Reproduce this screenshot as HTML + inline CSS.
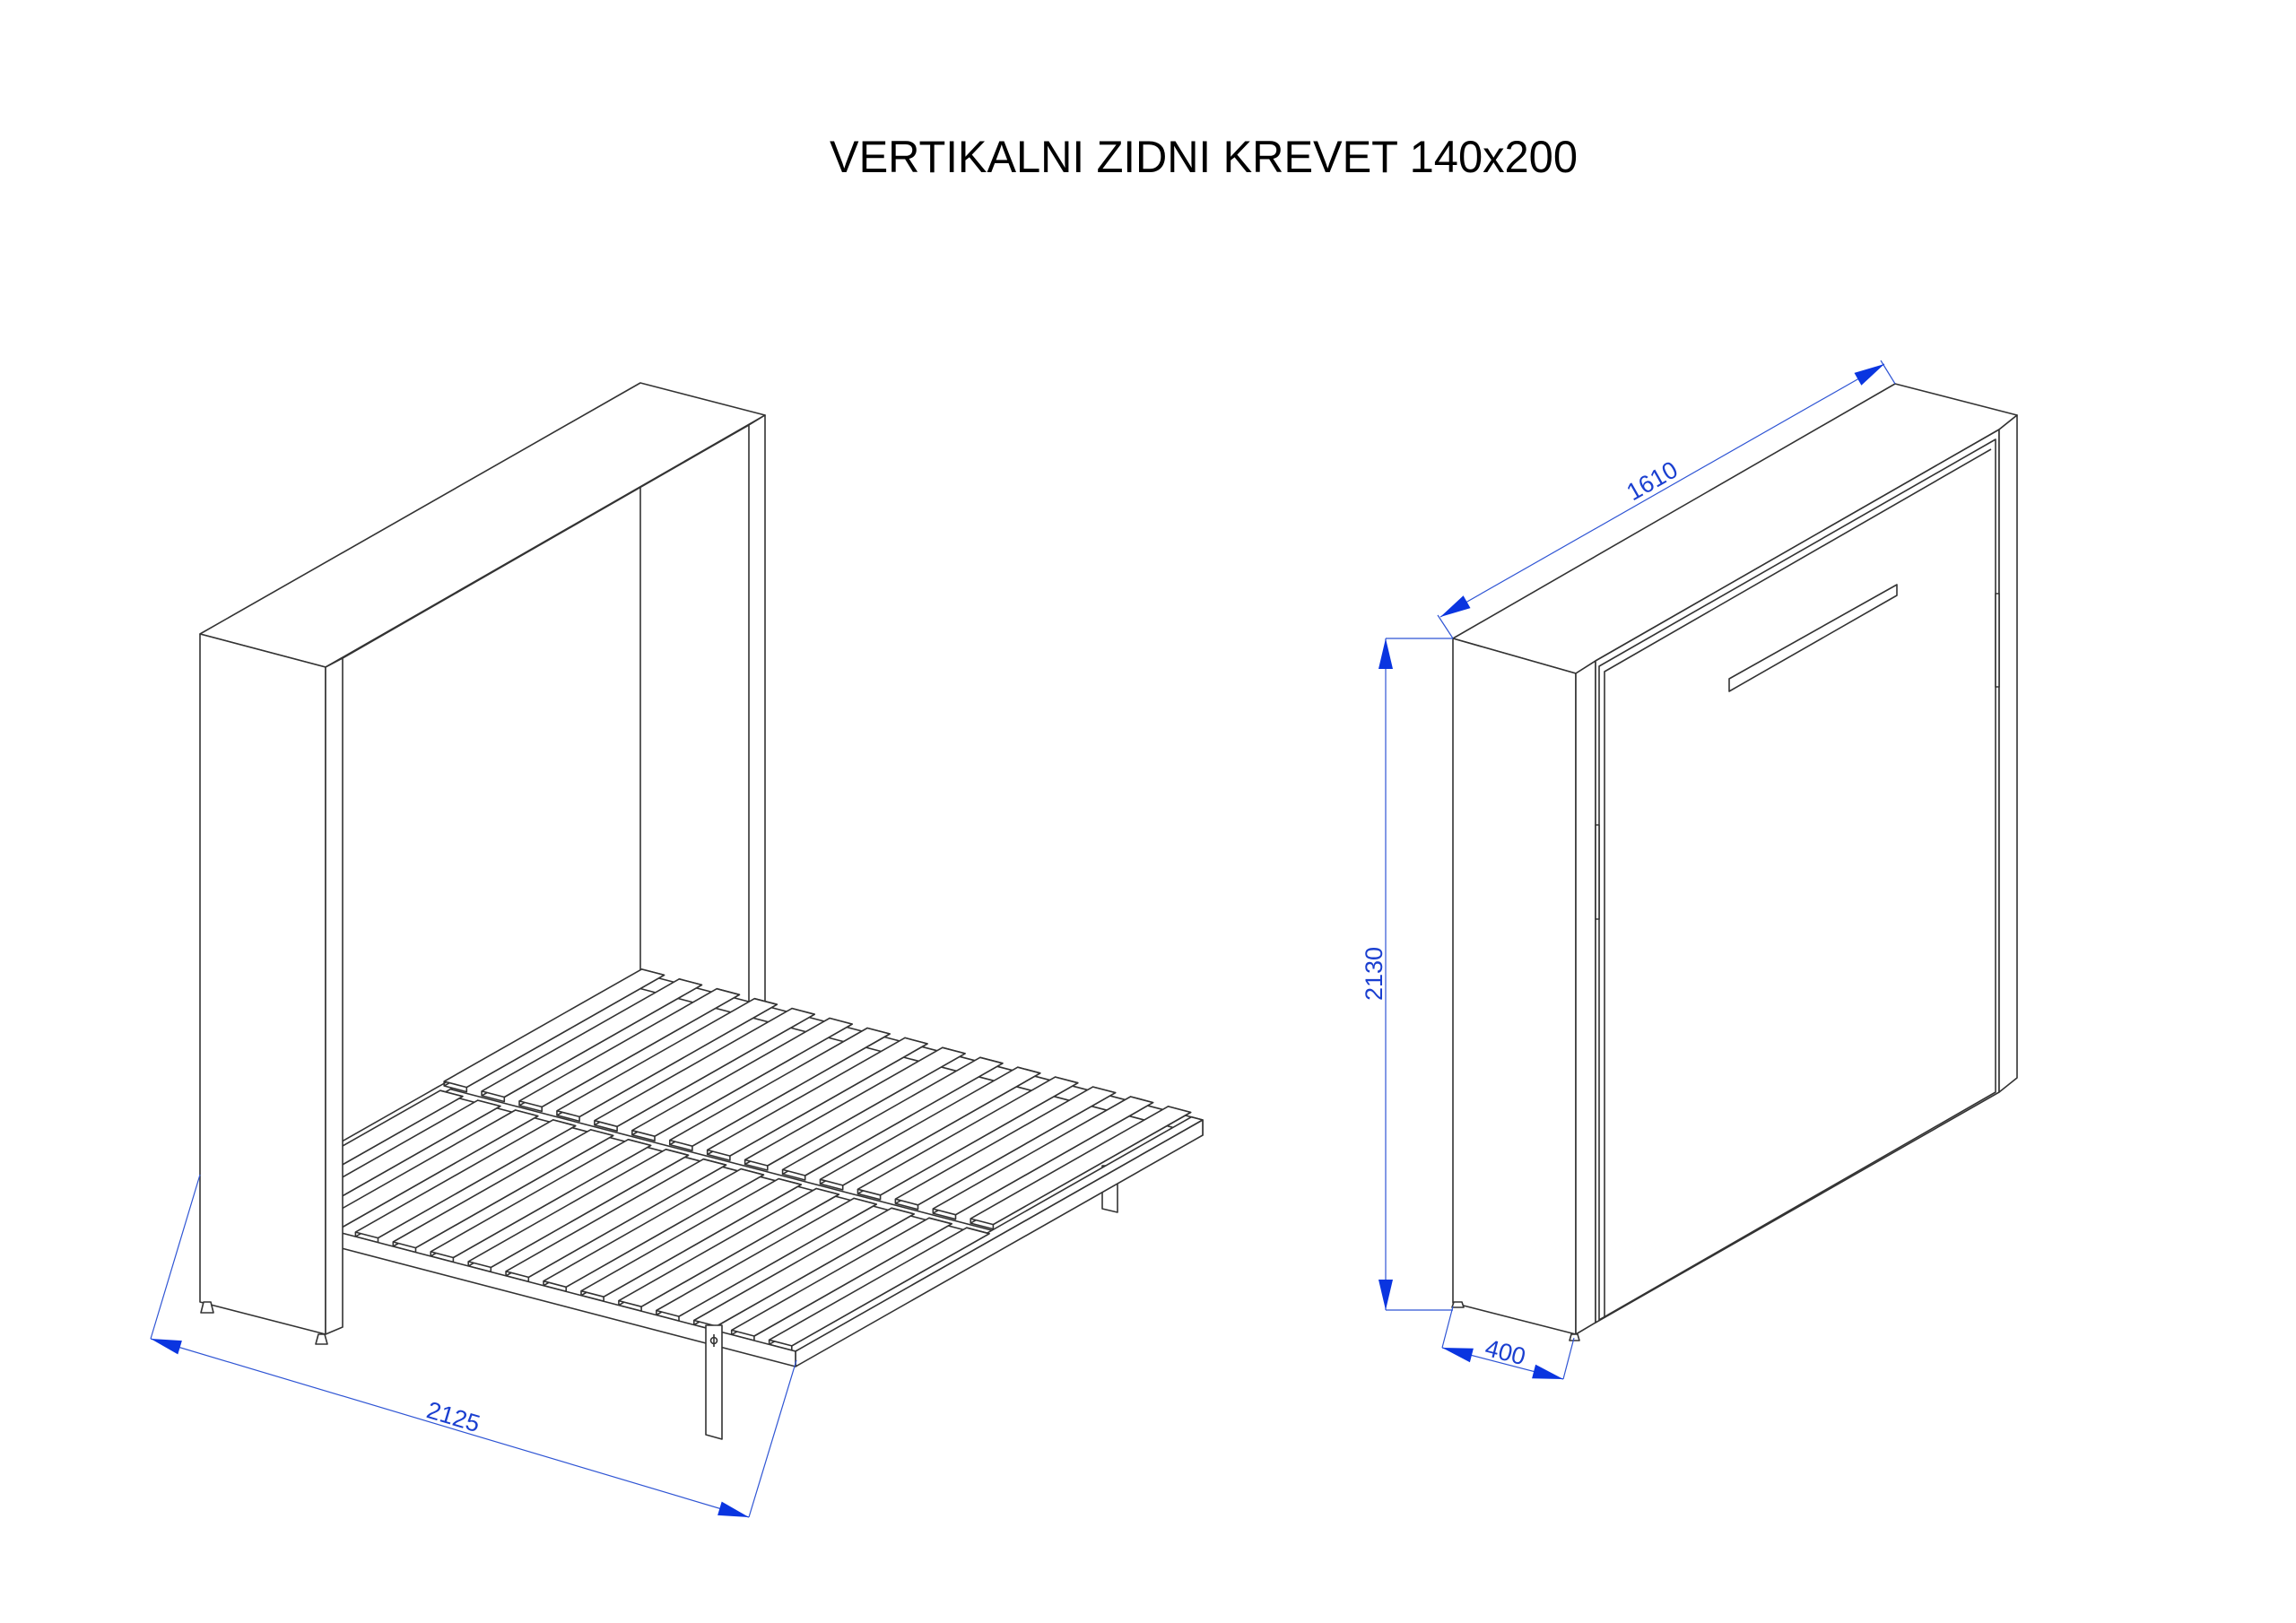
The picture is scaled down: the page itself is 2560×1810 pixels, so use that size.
<!DOCTYPE html>
<html><head><meta charset="utf-8">
<style>
html,body{margin:0;padding:0;background:#fff;}
svg{display:block;}
</style></head>
<body>
<svg id="s" width="2560" height="1810" viewBox="0 0 2560 1810" xmlns="http://www.w3.org/2000/svg">
<rect width="2560" height="1810" fill="#fff"/>
<text x="925" y="192" font-family="Liberation Sans, sans-serif" font-size="50" textLength="834" lengthAdjust="spacingAndGlyphs" fill="#000">VERTIKALNI ZIDNI KREVET 140x200</text>
<g id="left" fill="#fff" stroke="#333" stroke-width="1.6" stroke-linejoin="round"></g>
<g id="right" fill="#fff" stroke="#333" stroke-width="1.6" stroke-linejoin="round">
  <polygon points="1620,712 2113,428 2249,463 2229,479 1779,737 1757,751"/>
  <polygon points="1620,712 1757,751 1757,1488 1620,1453"/>
  <polygon points="1757,751 1779,737 1779,1475 1757,1488"/>
  <polygon points="1779,737 2229,479 2229,1218 1779,1475"/>
  <polygon points="2229,479 2249,463 2249,1202 2229,1218"/>
  <polygon points="1783,743 2225,490 2225,1218 1783,1472"/>
  <polyline fill="none" points="1789,1470 1789,749 2220,501"/>
  <polygon points="1928,757 2115,652 2115,664 1928,771"/>
  <rect x="1779" y="920" width="4" height="105"/>
  <rect x="2225" y="662" width="4" height="104"/>
  <polygon points="1621,1452 1630,1452 1632,1458 1619,1458"/>
  <polygon points="1752,1488 1759,1488 1761,1495 1750,1495"/>
</g>
<g id="dims" fill="none" stroke="#2f55d4" stroke-width="1.2">
  <line x1="223" y1="1310" x2="168" y2="1493"/>
  <line x1="888" y1="1517" x2="835" y2="1692"/>
  <line x1="168" y1="1493" x2="835" y2="1692"/>
  <line x1="1545" y1="712" x2="1620" y2="712"/>
  <line x1="1545" y1="1461" x2="1620" y2="1461"/>
  <line x1="1545" y1="712" x2="1545" y2="1461"/>
  <line x1="1620" y1="712" x2="1603" y2="686"/>
  <line x1="2113" y1="428" x2="2097" y2="402"/>
  <line x1="1606" y1="688" x2="2101" y2="406"/>
  <line x1="1620" y1="1457" x2="1608" y2="1503"/>
  <line x1="1755" y1="1492" x2="1743" y2="1538"/>
  <line x1="1608" y1="1503" x2="1743" y2="1538"/>
</g>
<g id="arrows" fill="#0a35e0" stroke="none"></g>
<g font-family="Liberation Sans, sans-serif" fill="#1a3fd0" font-size="27">
  <text transform="translate(505,1582) rotate(16.6)" text-anchor="middle" dominant-baseline="middle">2125</text>
  <text transform="translate(1534,1086) rotate(-90)" text-anchor="middle" dominant-baseline="middle">2130</text>
  <text transform="translate(1843,538) rotate(-29.5)" text-anchor="middle" dominant-baseline="middle">1610</text>
  <text transform="translate(1678,1510) rotate(14.5)" text-anchor="middle" dominant-baseline="middle">400</text>
</g>
</svg>
<script>
(function(){
var NS="http://www.w3.org/2000/svg";
function el(parent,tag,attrs){var e=document.createElementNS(NS,tag);for(var k in attrs)e.setAttribute(k,attrs[k]);parent.appendChild(e);return e;}
function pts(a){return a.map(function(p){return p[0].toFixed(1)+","+p[1].toFixed(1);}).join(" ");}
var L=document.getElementById("left");
function poly(a){el(L,"polygon",{points:pts(a)});}
function line(a,b){el(L,"line",{x1:a[0],y1:a[1],x2:b[0],y2:b[1]});}
poly([[223,707],[714,427],[853,463],[363,744]]);
poly([[835,474],[853,463],[853,1130],[835,1130]]);
line([382,734],[835,474]);
line([714,544],[714,1090]);
var A=[712,1085],B=[1341,1249],C=[887,1507];
var u=[B[0]-A[0],B[1]-A[1]],v=[C[0]-B[0],C[1]-B[1]];
function P(s,t,dy){return [A[0]+s*u[0]+t*v[0],A[1]+s*u[1]+t*v[1]+(dy||0)];}
poly([[1229,1300],[1246,1300],[1246,1352],[1229,1348]]);
var T=17;
poly([P(0,0),P(1,0),P(1,0,T),P(0,0,T)]);
poly([P(0,0.49),P(1,0.49),P(1,0.51),P(0,0.51)]);
poly([P(0,0),P(0.02,0),P(0.02,1),P(0,1)]);
poly([P(0.98,0),P(1,0),P(1,1),P(0.98,1)]);
var N=15,H=5;
function slat(s0,s1,t0,t1){
  poly([P(s0,t0,-H),P(s1,t0,-H),P(s1,t1,-H),P(s1,t1,0),P(s0,t1,0),P(s0,t0,0)]);
  poly([P(s0,t0,-H),P(s1,t0,-H),P(s1,t1,-H),P(s0,t1,-H)]);
  line(P(s0,t1,-H),P(s0,t1,0));
}
for(var i=0;i<N;i++){ slat((i+0.08)/N,(i+0.68)/N,0.0,0.485); }
for(var i=0;i<N;i++){ slat((i+0.3)/N,(i+0.9)/N,0.515,1.0); }
poly([P(1,0),P(1,1),P(1,1,T),P(1,0,T)]);
poly([P(0,1),P(1,1),P(1,1,T),P(0,1,T)]);
poly([[787,1478],[805,1478],[805,1605],[787,1600]]);
el(L,"circle",{cx:796,cy:1495,r:3.5,fill:"none"});
line([796,1488],[796,1502]);
poly([[223,707],[363,744],[363,1488],[223,1452]]);
poly([[363,744],[382,734],[382,1480],[363,1488]]);
poly([[227,1452],[235,1452],[238,1464],[224,1464]]);
poly([[355,1488],[362,1488],[365,1499],[352,1499]]);
var AR=document.getElementById("arrows");
function arrow(tip,from){
  var dx=from[0]-tip[0],dy=from[1]-tip[1],l=Math.sqrt(dx*dx+dy*dy);dx/=l;dy/=l;
  var len=34,w=8;
  var bx=tip[0]+dx*len,by=tip[1]+dy*len;
  el(AR,"polygon",{points:pts([tip,[bx-dy*w,by+dx*w],[bx+dy*w,by-dx*w]])});
}
arrow([168,1493],[835,1692]);arrow([835,1692],[168,1493]);
arrow([1545,712],[1545,1461]);arrow([1545,1461],[1545,712]);
arrow([1606,688],[2101,406]);arrow([2101,406],[1606,688]);
arrow([1608,1503],[1743,1538]);arrow([1743,1538],[1608,1503]);
})();
</script>
</body></html>
